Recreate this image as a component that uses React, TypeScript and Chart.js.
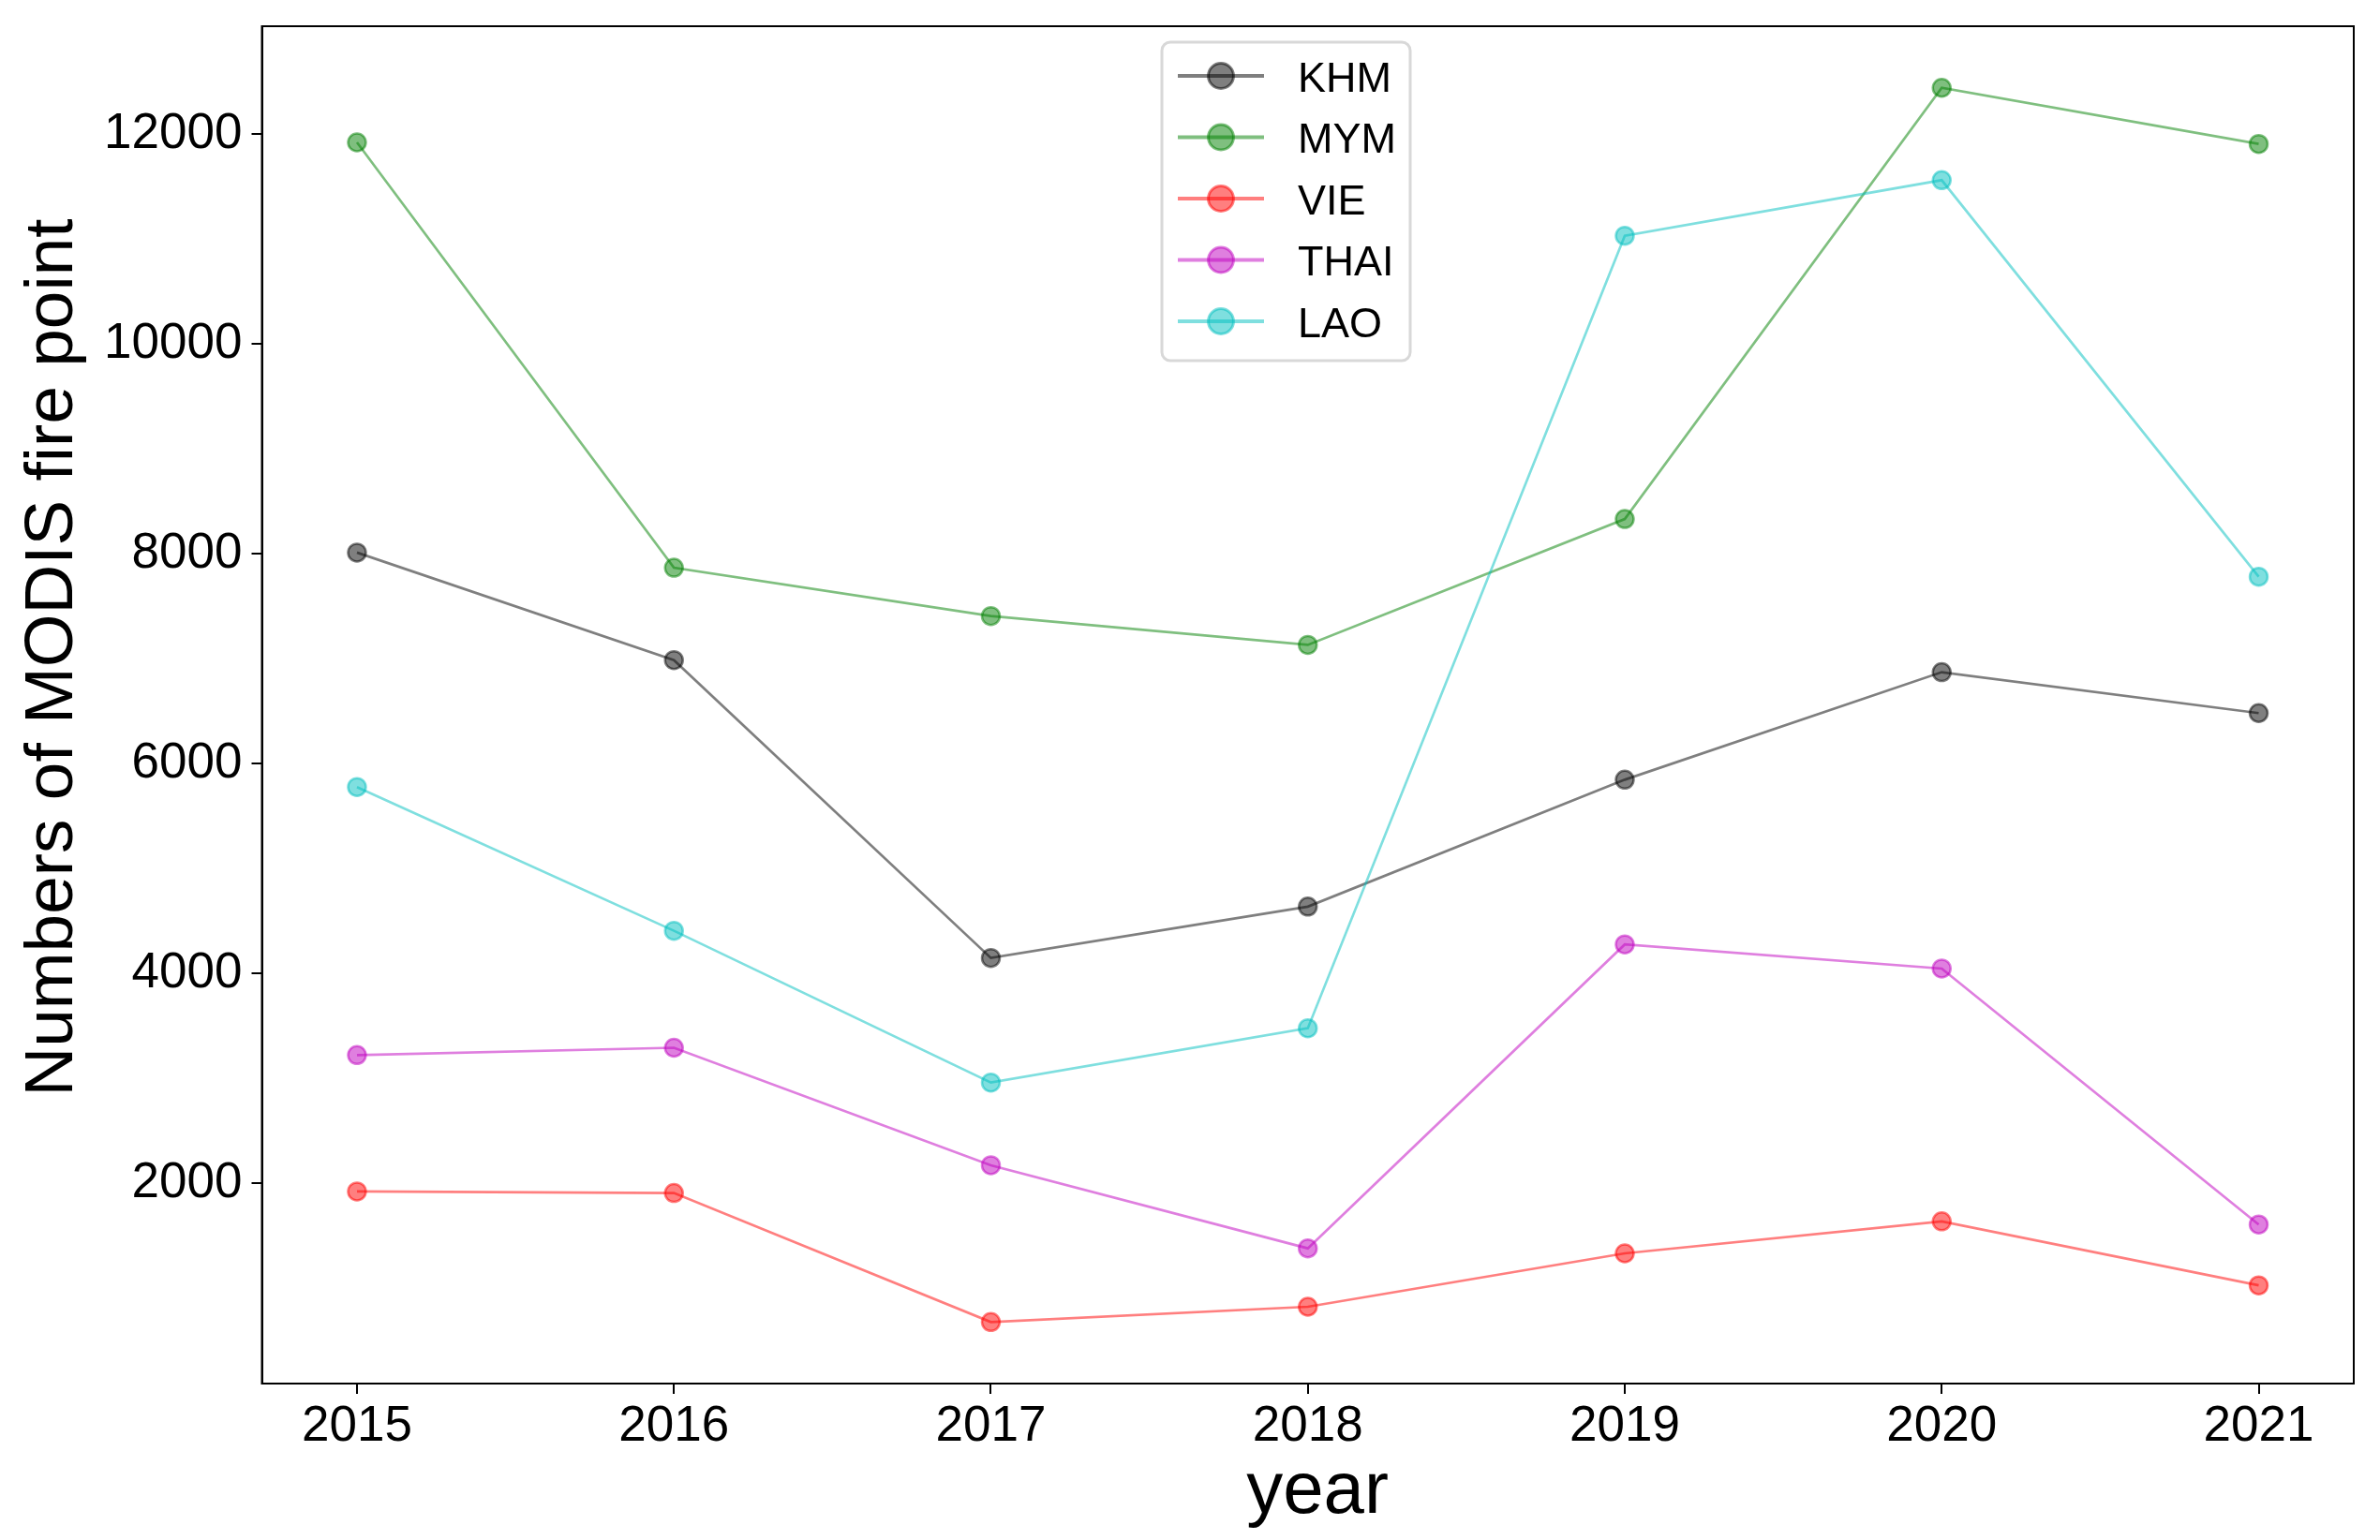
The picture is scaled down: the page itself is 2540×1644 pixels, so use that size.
import { useEffect, useRef } from 'react';
import { Chart, registerables } from 'chart.js';

Chart.register(...registerables);

// ---- data ----
const YEARS = [2015, 2016, 2017, 2018, 2019, 2020, 2021];
const SERIES_NAMES = ['KHM', 'MYM', 'VIE', 'THAI', 'LAO'];
const KHM = [8010, 6985, 4146, 4635, 5845, 6870, 6480];
const MYM = [11920, 7865, 7405, 7130, 8330, 12440, 11905];
const VIE = [1920, 1905, 675, 821, 1330, 1635, 1025];
const THAI = [3220, 3290, 2170, 1378, 4275, 4045, 1605];
const LAO = [5775, 4405, 2958, 3476, 11030, 11560, 7780];
const SERIES = [KHM, MYM, VIE, THAI, LAO];
const Y_TICKS = [2000, 4000, 6000, 8000, 10000, 12000];
const X_TITLE = 'year';
const Y_TITLE = 'Numbers of MODIS fire point';

const COLORS = [
  'rgba(0,0,0,0.5)',
  'rgba(0,128,0,0.5)',
  'rgba(255,0,0,0.5)',
  'rgba(191,0,191,0.5)',
  'rgba(0,191,191,0.5)',
];

const FONT = '"Liberation Sans", Arial, sans-serif';

export default function App() {
  const ref = useRef<HTMLCanvasElement>(null);

  useEffect(() => {
    const canvas = ref.current;
    if (!canvas) return;

    const datasets = SERIES.map((vals, i) => ({
      label: SERIES_NAMES[i],
      data: YEARS.map((x, j) => ({ x, y: vals[j] })),
      borderColor: COLORS[i],
      backgroundColor: COLORS[i],
      pointBackgroundColor: COLORS[i],
      pointBorderColor: COLORS[i],
      borderWidth: 2.7,
      pointRadius: 9.5,
      pointHoverRadius: 9.5,
      pointBorderWidth: 2.5,
      tension: 0,
      fill: false,
      order: SERIES.length - i,
    }));

    const overlay = {
      id: 'overlay',
      afterDraw(chart: any) {
        const ctx = chart.ctx as CanvasRenderingContext2D;
        const a = chart.chartArea;
        ctx.save();
        // frame
        ctx.strokeStyle = '#000';
        ctx.lineWidth = 2;
        ctx.strokeRect(a.left, a.top, a.right - a.left, a.bottom - a.top);

        // axis titles
        ctx.fillStyle = '#000';
        ctx.font = `78px ${FONT}`;
        ctx.textAlign = 'center';
        ctx.textBaseline = 'alphabetic';
        ctx.fillText(X_TITLE, 1406, 1615);

        ctx.save();
        ctx.font = `73px ${FONT}`;
        ctx.translate(77, 702);
        ctx.rotate(-Math.PI / 2);
        ctx.fillText(Y_TITLE, 0, 0);
        ctx.restore();

        // legend
        const lx = 1240, ly = 45, lw = 265, lh = 340;
        ctx.beginPath();
        (ctx as any).roundRect(lx, ly, lw, lh, 9);
        ctx.fillStyle = 'rgba(255,255,255,0.8)';
        ctx.fill();
        ctx.strokeStyle = '#d8d8d8';
        ctx.lineWidth = 3;
        ctx.stroke();

        chart.data.datasets.forEach((ds: any, i: number) => {
          const cy = 81 + i * 65.5;
          ctx.beginPath();
          ctx.moveTo(1257, cy);
          ctx.lineTo(1349, cy);
          ctx.strokeStyle = ds.borderColor;
          ctx.lineWidth = 4;
          ctx.stroke();
          ctx.beginPath();
          ctx.arc(1303, cy, 13.5, 0, Math.PI * 2);
          ctx.fillStyle = ds.pointBackgroundColor;
          ctx.fill();
          ctx.strokeStyle = ds.pointBorderColor;
          ctx.lineWidth = 3;
          ctx.stroke();
          ctx.fillStyle = '#000';
          ctx.font = `45px ${FONT}`;
          ctx.textAlign = 'left';
          ctx.textBaseline = 'alphabetic';
          ctx.fillText(ds.label, 1385, cy + 16.5);
        });
        ctx.restore();
      },
    };

    const chart = new Chart(canvas, {
      type: 'line',
      data: { datasets: datasets as any },
      options: {
        animation: false,
        responsive: false,
        devicePixelRatio: 1,
        events: [],
        layout: { padding: { top: 28, right: 28, left: 0, bottom: 0 } },
        plugins: {
          legend: { display: false },
          tooltip: { enabled: false },
          title: { display: false },
        },
        scales: {
          x: {
            type: 'linear',
            min: 2014.7,
            max: 2021.3,
            afterBuildTicks: (s: any) => {
              s.ticks = YEARS.map((v) => ({ value: v }));
            },
            afterFit: (s: any) => {
              s.height = 167;
              s.paddingLeft = 0;
              s.paddingRight = 0;
            },
            ticks: {
              callback: (v: any) => String(v),
              font: { family: FONT, size: 53 },
              color: '#000',
              padding: 4,
              maxRotation: 0,
              autoSkip: false,
            },
            grid: {
              drawOnChartArea: false,
              drawTicks: true,
              tickLength: 11,
              color: '#000',
              lineWidth: 2,
            },
            border: { display: true, color: '#000', width: 2 },
          },
          y: {
            type: 'linear',
            min: 89,
            max: 13027,
            afterBuildTicks: (s: any) => {
              s.ticks = Y_TICKS.map((v) => ({ value: v }));
            },
            afterFit: (s: any) => {
              s.width = 279.5;
              s.paddingTop = 0;
              s.paddingBottom = 0;
            },
            ticks: {
              callback: (v: any) => String(v),
              font: { family: FONT, size: 53 },
              color: '#000',
              padding: 10,
              autoSkip: false,
            },
            grid: {
              drawOnChartArea: false,
              drawTicks: true,
              tickLength: 11,
              color: '#000',
              lineWidth: 2,
            },
            border: { display: true, color: '#000', width: 2 },
          },
        },
      },
      plugins: [overlay],
    });

    return () => chart.destroy();
  }, []);

  return (
    <div style={{ position: 'absolute', left: 0, top: 0, width: 2540, height: 1644, background: '#fff' }}>
      <canvas ref={ref} width={2540} height={1644} style={{ width: 2540, height: 1644, display: 'block' }} />
    </div>
  );
}
